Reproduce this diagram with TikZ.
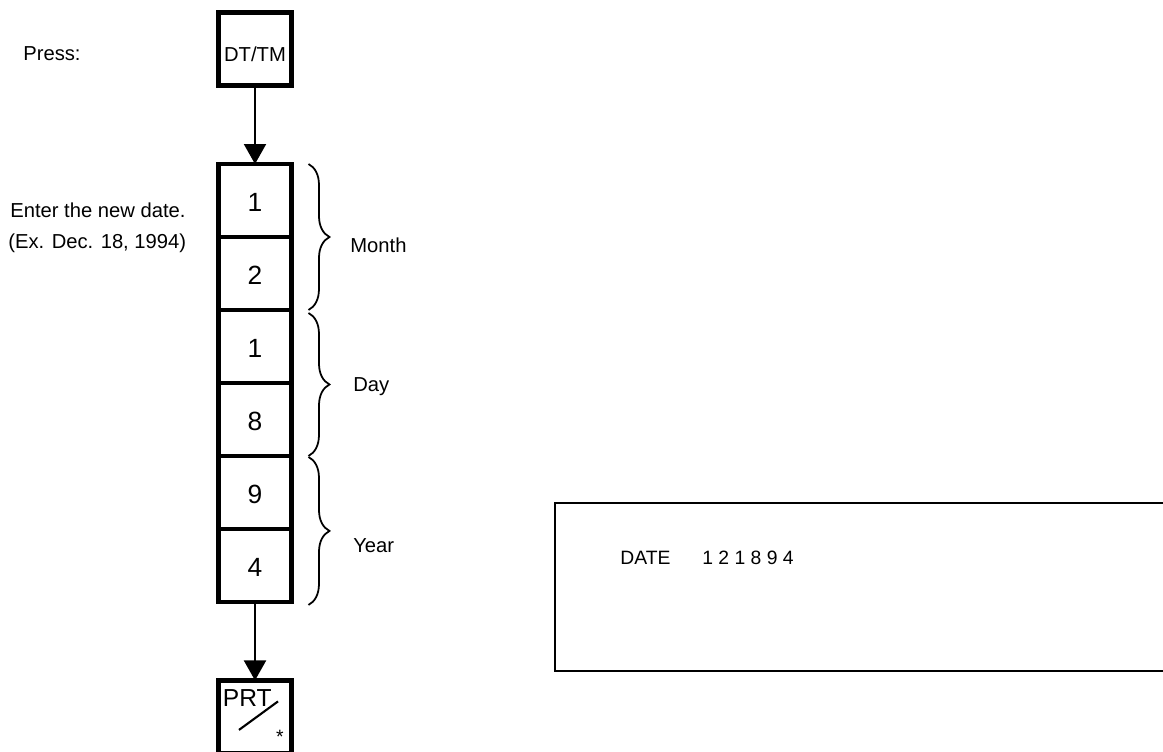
\documentclass[tikz,border=0pt]{standalone}
\usepackage{fontspec}
\setmainfont{Liberation Sans}
\usetikzlibrary{positioning,arrows.meta,decorations.pathreplacing,calc}

\begin{document}
\begin{tikzpicture}[x=0.02cm,y=-0.02cm,
  keybox/.style={draw,line width=2.5pt,minimum size=1.46cm,inner sep=0pt,outer sep=0pt,
    font=\fontsize{15}{18}\selectfont,text height=1.3em,text depth=0pt},
  note/.style={anchor=west,inner sep=0pt,font=\fontsize{11.5}{13}\selectfont},
  lcdtext/.style={anchor=west,inner sep=0pt,font=\fontsize{11}{13}\selectfont},
  flow/.style={line width=1.2pt,-{Triangle[width=0.44cm,length=0.4cm]}},
  grp/.style={decorate,decoration={brace,amplitude=0.42cm},line width=1pt}]

% Page frame (pixel units, y grows downwards)
\useasboundingbox (0,0) rectangle (1163,751);

% Key column
\def\keyX{255}
\node[keybox] (m1) at (\keyX,200.5) {1};
\node[keybox,below=0pt of m1] (m2) {2};
\node[keybox,below=0pt of m2] (d1) {1};
\node[keybox,below=0pt of d1] (d2) {8};
\node[keybox,below=0pt of d2] (y1) {9};
\node[keybox,below=0pt of y1] (y2) {4};

% DT/TM key above, PRT key below
\node[keybox,above=1.57cm of m1,font=\fontsize{11.5}{13}\selectfont,text height=1.4em] (dttm) {DT/TM};
\node[keybox,below=1.57cm of y2] (prt) {};
\node[anchor=west,inner sep=0pt,font=\fontsize{14}{16}\selectfont] (prttag) at ($(prt.west)+(4,-19)$) {PRT};
\draw[line width=1.2pt] ($(prt.center)+(-16,13)$) -- ($(prt.center)+(23,-15.5)$);
\node[anchor=base,inner sep=0pt,font=\fontsize{11}{13}\selectfont] (prtstar) at ($(prt.center)+(25,26.5)$) {*};

% Flow arrows
\draw[flow] (dttm) -- (m1);
\draw[flow] (y2) -- (prt);

% Braces for the date fields
\draw[grp] ($(m1.north east)+(17,0)$) -- ($(m2.south east)+(17,0)$);
\draw[grp] ($(d1.north east)+(17,3)$) -- ($(d2.south east)+(17,0)$);
\draw[grp] ($(y1.north east)+(17,1)$) -- ($(y2.south east)+(17,3)$);

\node[note] (month) at (350,245) {Month};
\node[note] (day) at (353,387) {Day};
\node[note] (year) at (353,546) {Year};

% Instructions on the left
\node[note] (press) at (23,54) {Press:};
\node[note] (enter) at (10,210) {Enter the new date.};
\node[note] (example) at (8,243) {(Ex. Dec. 18, 1994)};

% Printer display
\node[draw,line width=1.1pt,anchor=north west,inner sep=0pt,outer sep=0pt,
  minimum width=12.6cm,minimum height=3.36cm] (lcd) at (555,503) {};
\node[lcdtext] (lcdtag) at (620,558) {DATE};
\node[lcdtext] (lcdval) at (702,558) {1 2 1 8 9 4};

\end{tikzpicture}
\end{document}
